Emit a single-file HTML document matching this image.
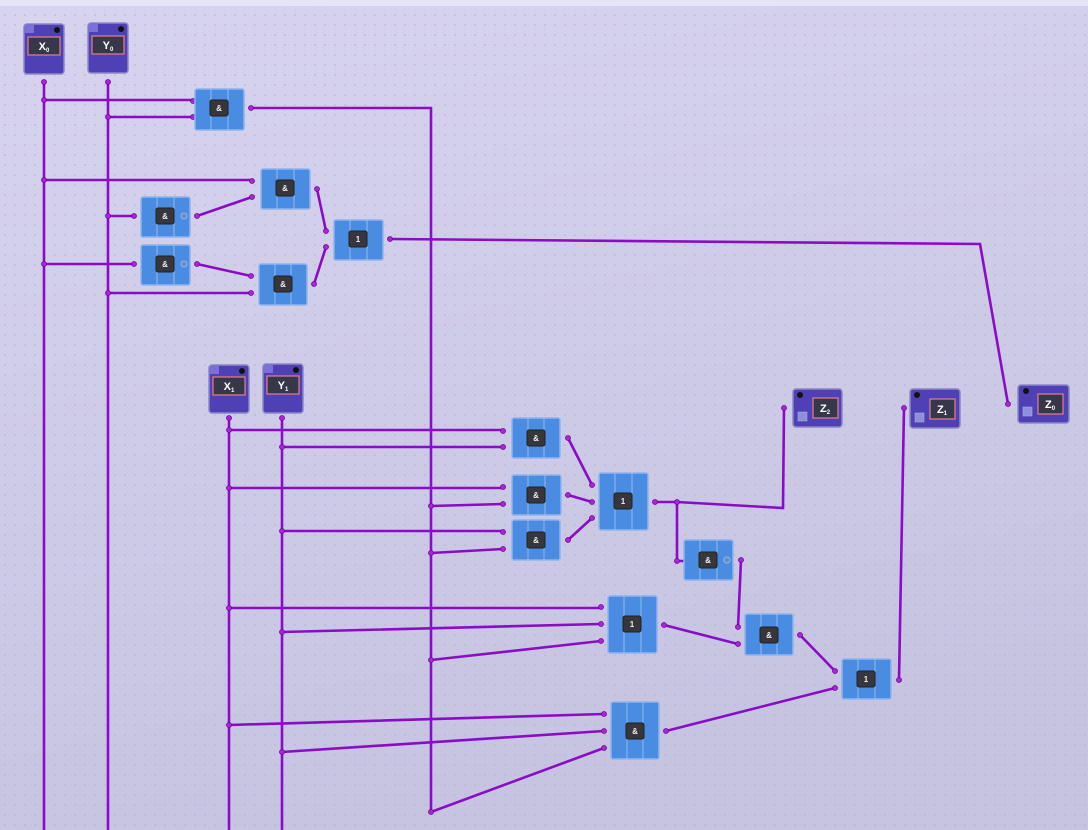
<!DOCTYPE html>
<html><head><meta charset="utf-8"><style>
html,body{margin:0;padding:0;width:1088px;height:830px;overflow:hidden;background:#cdcae6}
svg{display:block}
text{font-family:"Liberation Sans",sans-serif;font-weight:bold}
</style></head><body>
<svg width="1088" height="830" viewBox="0 0 1088 830" xmlns="http://www.w3.org/2000/svg">
<defs>
<linearGradient id="bg" x1="0" y1="0" x2="0.3" y2="1">
<stop offset="0" stop-color="#d8d4f0"/><stop offset="1" stop-color="#c6c4e0"/>
</linearGradient>
<pattern id="dots" width="10" height="10" patternUnits="userSpaceOnUse">
<circle cx="5" cy="5" r="0.9" fill="#b8b5d4"/>
</pattern>
<g id="chip"><rect x="-9" y="-8" width="18" height="16" rx="2" fill="#36363c" stroke="#222" stroke-width="1"/></g>
</defs>
<rect width="1088" height="830" fill="url(#bg)"/>
<rect width="1088" height="830" fill="url(#dots)"/>
<rect width="1088" height="6" fill="#e6e4f8"/>

<!-- wires -->
<g stroke="#8a0cc8" stroke-width="2.6" fill="none">
<path d="M44 82V830M108 82V830M229 418V830M282 418V830"/>
<path d="M44 100H193M108 117H193M251 108H431V812L604 748"/>
<path d="M44 180H252M108 216H134M197 216L252 197M44 264H134M197 264L251 276M108 293H251"/>
<path d="M317 189L326 231M314 284L326 247"/>
<path d="M390 239L980 244L1008 404"/>
<path d="M229 430H503M282 447H503M229 488H503M282 531H503M431 506L503 504M431 553L503 549"/>
<path d="M568 438L592 485M568 495L592 502M568 540L592 518"/>
<path d="M655 502H677L783 508L784 408M677 502V561H684"/>
<path d="M741 560L738 627"/>
<path d="M229 608H601M282 632L601 624M431 660L601 641"/>
<path d="M664 625L738 644M800 635L835 671"/>
<path d="M229 725L604 714M282 752L604 731"/>
<path d="M666 731L835 688M899 680L904 408"/>
</g>
<!-- junction dots -->
<g fill="#b020e0" stroke="#6a0a90" stroke-width="0.8">
<circle cx="44" cy="82" r="2.5"/><circle cx="108" cy="82" r="2.5"/>
<circle cx="44" cy="100" r="2.5"/><circle cx="108" cy="117" r="2.5"/><circle cx="193" cy="101" r="2.5"/><circle cx="193" cy="117" r="2.5"/><circle cx="251" cy="108" r="2.5"/>
<circle cx="44" cy="180" r="2.5"/><circle cx="108" cy="216" r="2.5"/><circle cx="44" cy="264" r="2.5"/><circle cx="108" cy="293" r="2.5"/>
<circle cx="252" cy="181" r="2.5"/><circle cx="252" cy="197" r="2.5"/><circle cx="134" cy="216" r="2.5"/><circle cx="134" cy="264" r="2.5"/><circle cx="197" cy="216" r="2.5"/><circle cx="197" cy="264" r="2.5"/>
<circle cx="251" cy="276" r="2.5"/><circle cx="251" cy="293" r="2.5"/><circle cx="317" cy="189" r="2.5"/><circle cx="314" cy="284" r="2.5"/>
<circle cx="326" cy="231" r="2.5"/><circle cx="326" cy="247" r="2.5"/><circle cx="390" cy="239" r="2.5"/><circle cx="1008" cy="404" r="2.5"/>
<circle cx="229" cy="418" r="2.5"/><circle cx="282" cy="418" r="2.5"/>
<circle cx="229" cy="430" r="2.5"/><circle cx="282" cy="447" r="2.5"/><circle cx="229" cy="488" r="2.5"/><circle cx="282" cy="531" r="2.5"/>
<circle cx="431" cy="506" r="2.5"/><circle cx="431" cy="553" r="2.5"/><circle cx="431" cy="660" r="2.5"/><circle cx="431" cy="812" r="2.5"/>
<circle cx="503" cy="431" r="2.5"/><circle cx="503" cy="447" r="2.5"/><circle cx="503" cy="487" r="2.5"/><circle cx="503" cy="504" r="2.5"/><circle cx="503" cy="532" r="2.5"/><circle cx="503" cy="549" r="2.5"/>
<circle cx="568" cy="438" r="2.5"/><circle cx="568" cy="495" r="2.5"/><circle cx="568" cy="540" r="2.5"/>
<circle cx="592" cy="485" r="2.5"/><circle cx="592" cy="502" r="2.5"/><circle cx="592" cy="518" r="2.5"/><circle cx="655" cy="502" r="2.5"/><circle cx="677" cy="502" r="2.5"/>
<circle cx="784" cy="408" r="2.5"/><circle cx="677" cy="561" r="2.5"/><circle cx="741" cy="560" r="2.5"/>
<circle cx="229" cy="608" r="2.5"/><circle cx="282" cy="632" r="2.5"/><circle cx="601" cy="607" r="2.5"/><circle cx="601" cy="624" r="2.5"/><circle cx="601" cy="641" r="2.5"/>
<circle cx="664" cy="625" r="2.5"/><circle cx="738" cy="627" r="2.5"/><circle cx="738" cy="644" r="2.5"/><circle cx="800" cy="635" r="2.5"/>
<circle cx="835" cy="671" r="2.5"/><circle cx="835" cy="688" r="2.5"/><circle cx="899" cy="680" r="2.5"/><circle cx="904" cy="408" r="2.5"/>
<circle cx="229" cy="725" r="2.5"/><circle cx="282" cy="752" r="2.5"/><circle cx="604" cy="714" r="2.5"/><circle cx="604" cy="731" r="2.5"/><circle cx="604" cy="748" r="2.5"/><circle cx="666" cy="731" r="2.5"/>
</g>

<!-- gates -->
<g stroke="#8fb4ee" stroke-width="1.5" fill="#4a8ce2">
<rect x="195" y="89" width="49" height="41" rx="2"/>
<rect x="261" y="169" width="49" height="40" rx="2"/>
<rect x="141" y="197" width="49" height="40" rx="2"/>
<rect x="141" y="245" width="49" height="40" rx="2"/>
<rect x="259" y="264" width="48" height="41" rx="2"/>
<rect x="334" y="220" width="49" height="40" rx="2"/>
<rect x="512" y="418" width="48" height="40" rx="2"/>
<rect x="512" y="475" width="49" height="40" rx="2"/>
<rect x="512" y="520" width="48" height="40" rx="2"/>
<rect x="599" y="473" width="49" height="57" rx="2"/>
<rect x="684" y="540" width="49" height="40" rx="2"/>
<rect x="608" y="596" width="49" height="57" rx="2"/>
<rect x="745" y="614" width="48" height="41" rx="2"/>
<rect x="842" y="659" width="49" height="40" rx="2"/>
<rect x="611" y="702" width="48" height="57" rx="2"/>
</g>
<g stroke="#a9c4ec" stroke-width="0.8">
<path d="M211 89v41M228 89v41M277 169v40M294 169v40M157 197v40M174 197v40M157 245v40M174 245v40M275 264v41M291 264v41M350 220v40M367 220v40"/>
<path d="M528 418v40M544 418v40M528 475v40M545 475v40M528 520v40M544 520v40M615 473v57M632 473v57M700 540v40M717 540v40M624 596v57M641 596v57M761 614v41M777 614v41M858 659v40M875 659v40M627 702v57M643 702v57"/>
</g>
<!-- bubbles -->
<g fill="#5f8fc8" stroke="#9ab8dc" stroke-width="1"><circle cx="184" cy="216" r="3"/><circle cx="184" cy="264" r="3"/><circle cx="727" cy="560" r="3"/></g>
<!-- chips -->
<g>
<use href="#chip" x="219" y="108"/><use href="#chip" x="285" y="188"/><use href="#chip" x="165" y="216"/><use href="#chip" x="165" y="264"/><use href="#chip" x="283" y="284"/><use href="#chip" x="358" y="239"/>
<use href="#chip" x="536" y="438"/><use href="#chip" x="536" y="495"/><use href="#chip" x="536" y="540"/><use href="#chip" x="623" y="501"/><use href="#chip" x="708" y="560"/><use href="#chip" x="632" y="624"/><use href="#chip" x="769" y="635"/><use href="#chip" x="866" y="679"/><use href="#chip" x="635" y="731"/>
</g>
<g fill="#eee" font-size="8" text-anchor="middle">
<text x="219" y="111">&amp;</text><text x="285" y="191">&amp;</text><text x="165" y="219">&amp;</text><text x="165" y="267">&amp;</text><text x="283" y="287">&amp;</text><text x="358" y="242">1</text>
<text x="536" y="441">&amp;</text><text x="536" y="498">&amp;</text><text x="536" y="543">&amp;</text><text x="623" y="504">1</text><text x="708" y="563">&amp;</text><text x="632" y="627">1</text><text x="769" y="638">&amp;</text><text x="866" y="682">1</text><text x="635" y="734">&amp;</text>
</g>

<!-- inputs -->
<g stroke="#8c88c8" stroke-width="1.5" fill="#5040b6">
<rect x="24" y="24" width="40" height="50" rx="3"/><rect x="88" y="23" width="40" height="50" rx="3"/>
<rect x="209" y="365" width="40" height="48" rx="3"/><rect x="263" y="364" width="40" height="49" rx="3"/>
<rect x="793" y="389" width="49" height="38" rx="3"/><rect x="910" y="389" width="50" height="39" rx="3"/><rect x="1018" y="385" width="51" height="38" rx="3"/>
</g>
<g fill="#7b70d8"><rect x="25" y="25" width="9" height="8"/><rect x="89" y="24" width="9" height="8"/><rect x="210" y="366" width="9" height="8"/><rect x="264" y="365" width="9" height="8"/></g>
<g fill="#8f8ed8" stroke="#aaa8e0" stroke-width="0.6"><rect x="798" y="412" width="9" height="9"/><rect x="915" y="413" width="9" height="9"/><rect x="1023" y="407" width="9" height="9"/></g>
<g fill="#111"><circle cx="57" cy="30" r="3"/><circle cx="121" cy="29" r="3"/><circle cx="242" cy="371" r="3"/><circle cx="296" cy="370" r="3"/><circle cx="800" cy="395" r="3"/><circle cx="917" cy="395" r="3"/><circle cx="1026" cy="391" r="3"/></g>
<g fill="#36384a" stroke="#d77a8a" stroke-width="1.3">
<rect x="28" y="37" width="32" height="18"/><rect x="92" y="36" width="32" height="18"/>
<rect x="213" y="377" width="32" height="18"/><rect x="267" y="376" width="32" height="18"/>
<rect x="813" y="398" width="25" height="20"/><rect x="930" y="399" width="25" height="20"/><rect x="1038" y="394" width="25" height="20"/>
</g>
<g fill="#fff" font-size="11" text-anchor="middle">
<text x="44" y="50">X<tspan font-size="6" dy="2">0</tspan></text>
<text x="108" y="49">Y<tspan font-size="6" dy="2">0</tspan></text>
<text x="229" y="390">X<tspan font-size="6" dy="2">1</tspan></text>
<text x="283" y="389">Y<tspan font-size="6" dy="2">1</tspan></text>
<text x="825" y="412">Z<tspan font-size="6" dy="2">2</tspan></text>
<text x="942" y="413">Z<tspan font-size="6" dy="2">1</tspan></text>
<text x="1050" y="408">Z<tspan font-size="6" dy="2">0</tspan></text>
</g>
</svg>
</body></html>
